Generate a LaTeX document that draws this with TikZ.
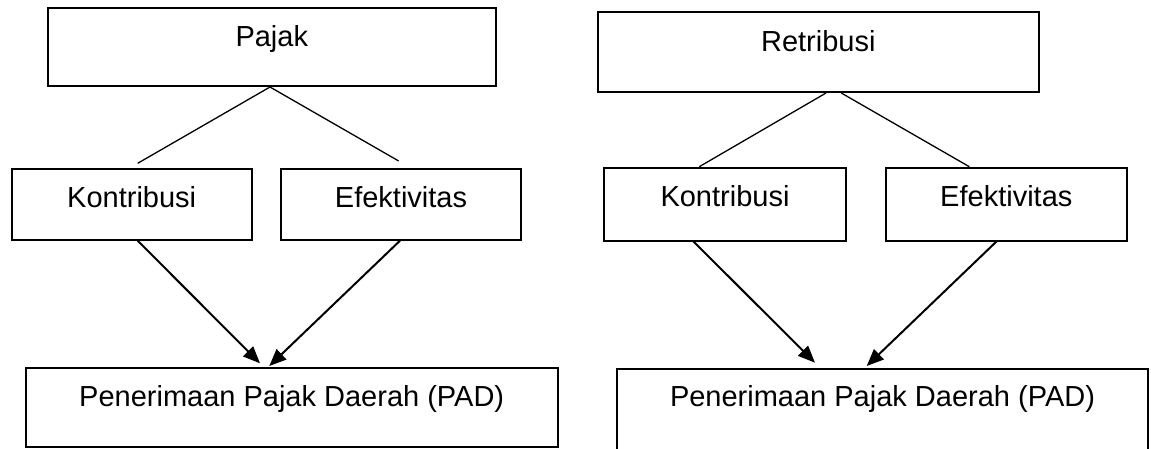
\documentclass[tikz,border=0pt]{standalone}
\usepackage{fontspec}
\setmainfont{Liberation Sans}
\usetikzlibrary{arrows.meta}
\begin{document}
\begin{tikzpicture}[x=1pt,y=-1pt,
  box/.style={draw, line width=2pt, inner sep=0pt, rectangle},
  lbl/.style={anchor=base, inner sep=0pt, font=\fontsize{29pt}{34pt}\selectfont},
  tie/.style={line width=1.3pt},
  flow/.style={line width=2pt, -{Triangle[length=17pt,width=14pt]}}]
\useasboundingbox (0,0) rectangle (1151,448);

% boxes
\node[box, minimum width=448.3pt, minimum height=77.4pt] (pajak) at (271.85,47) {};
\node[box, minimum width=441.3pt, minimum height=80pt] (retribusi) at (818.35,52.3) {};
\node[box, minimum width=240pt, minimum height=71pt] (kontL) at (131.7,204.5) {};
\node[box, minimum width=240pt, minimum height=71pt] (efekL) at (401,204.5) {};
\node[box, minimum width=241.4pt, minimum height=72.4pt] (kontR) at (725,204.5) {};
\node[box, minimum width=240.7pt, minimum height=72.4pt] (efekR) at (1006.35,204.5) {};
\node[box, minimum width=532pt, minimum height=79.3pt] (padL) at (291.7,407.35) {};
\node[box, minimum width=531.6pt, minimum height=86pt] (padR) at (882.5,412) {};

% labels
\node[lbl] (tPajak) at (271.8,46.7) {Pajak};
\node[lbl] (tRetribusi) at (818.3,51) {Retribusi};
\node[lbl] (tKontL) at (131.7,207.3) {Kontribusi};
\node[lbl] (tEfekL) at (401,207.3) {Efektivitas};
\node[lbl] (tKontR) at (725,206.7) {Kontribusi};
\node[lbl] (tEfekR) at (1006.3,206.7) {Efektivitas};
\node[lbl] (tPadL) at (291.7,406.7) {Penerimaan Pajak Daerah (PAD)};
\node[lbl] (tPadR) at (882.5,406.7) {Penerimaan Pajak Daerah (PAD)};

% connector end points
\coordinate (pApex) at (270,87);
\coordinate (pL) at (137.7,163.3);
\coordinate (pR) at (398.7,161);
\coordinate (rA) at (826,93);
\coordinate (rB) at (841.3,93);
\coordinate (rL) at (699.3,166.7);
\coordinate (rR) at (969.3,166.7);

\coordinate (kLs) at (137.7,240.7);
\coordinate (eLs) at (400,240.7);
\coordinate (padLa) at (260,363.3);
\coordinate (padLb) at (269.3,366);
\coordinate (kRs) at (692.7,240.7);
\coordinate (eRs) at (997.3,240.7);
\coordinate (padRa) at (815,362.7);
\coordinate (padRb) at (866.7,366);

% tie lines
\draw[tie] (pApex) -- (pL);
\draw[tie] (pApex) -- (pR);
\draw[tie] (rA) -- (rL);
\draw[tie] (rB) -- (rR);

% arrows
\draw[flow] (kLs) -- (padLa);
\draw[flow] (eLs) -- (padLb);
\draw[flow] (kRs) -- (padRa);
\draw[flow] (eRs) -- (padRb);
\end{tikzpicture}
\end{document}
